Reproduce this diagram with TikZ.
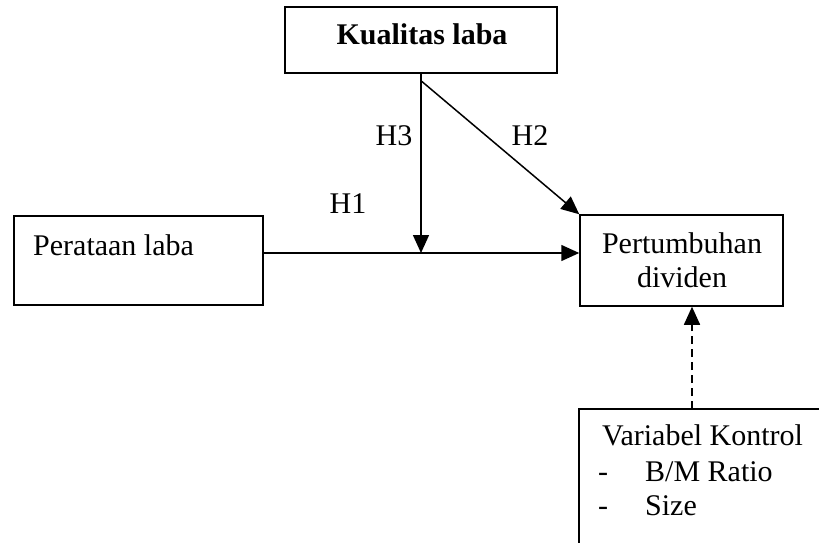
\documentclass[tikz,border=0pt]{standalone}
\usepackage{fontspec}
\setmainfont{Liberation Serif}
\usetikzlibrary{arrows.meta}
\begin{document}
\begin{tikzpicture}[x=1pt,y=1pt,
  box/.style={draw=black, line width=1.5pt, rectangle, inner sep=0pt, fill=white},
  txt/.style={inner sep=0pt, anchor=base, font=\fontsize{30}{34.5}\selectfont},
  arr/.style={line width=1.5pt, -{Triangle[length=18pt,width=16pt]}}
]
\useasboundingbox (0,0) rectangle (819,-543);
% boxes
\node[box, minimum width=272pt, minimum height=66pt] (kl) at (421,-40) {};
\node[box, minimum width=249pt, minimum height=89pt] (pl) at (138.5,-260.5) {};
\node[box, minimum width=203pt, minimum height=91pt] (pd) at (681.5,-260.5) {};
\begin{scope}
\clip (0,0) rectangle (819,-543);
\node[box, minimum width=251pt, minimum height=150pt] (vk) at (704.5,-484) {};
\end{scope}
% texts
\node[txt, font=\fontsize{30}{34.5}\selectfont\bfseries] (klt) at (422,-45) {Kualitas laba};
\node[txt, anchor=base west] (plt) at (33,-255) {Perataan laba};
\node[txt] (pdt1) at (682,-253) {Pertumbuhan};
\node[txt] (pdt2) at (682,-287) {dividen};
\node[txt, anchor=base west] (vkt1) at (602,-445) {Variabel Kontrol};
\node[txt, anchor=base west] (vkd1) at (598,-481) {-};
\node[txt, anchor=base west] (vkt2) at (645,-481) {B/M Ratio};
\node[txt, anchor=base west] (vkd2) at (598,-515) {-};
\node[txt, anchor=base west] (vkt3) at (645,-515) {Size};
% labels
\node[txt] (h3) at (394,-145) {H3};
\node[txt] (h2) at (530,-145) {H2};
\node[txt] (h1) at (348,-213) {H1};
% connectors
\coordinate (m) at (421,-253);
\coordinate (vktop) at (692,-409);
\draw[arr] ([yshift=7.5pt]pl.east) -- ([yshift=7.5pt]pd.west);
\draw[arr] (kl.south) -- (m);
\draw[arr] ([yshift=-7pt]kl.south) -- (pd.north west);
\draw[arr, dash pattern=on 8pt off 5pt] (vktop) -- (pd.south -| vktop);
\end{tikzpicture}
\end{document}
